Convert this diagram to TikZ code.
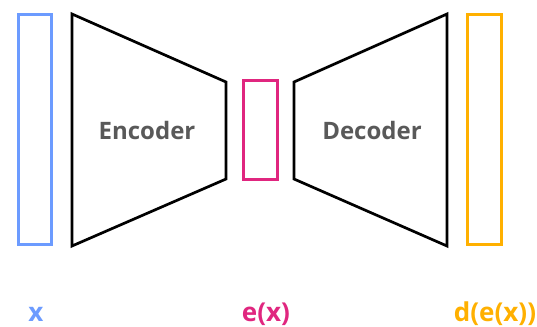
\documentclass[tikz,border=0pt]{standalone}
\usepackage{fontspec}
\setmainfont{Open Sans}
\definecolor{inblue}{HTML}{6C9BFF}
\definecolor{codepink}{HTML}{E0267F}
\definecolor{outorange}{HTML}{FFB000}
\definecolor{textgray}{HTML}{595959}
\begin{document}
\begin{tikzpicture}[x=1pt,y=-1pt,
  vec/.style={draw, line width=3.3pt, inner sep=0pt, outer sep=0pt, minimum width=33pt},
  net/.style={draw=black, line width=2.7pt, line join=miter},
  netlabel/.style={text=textgray, font=\fontsize{24}{28}\selectfont\bfseries},
  veclabel/.style={font=\fontsize{26}{30}\selectfont\bfseries, anchor=base}]
  \useasboundingbox (0,0) rectangle (537,326);

  % data vectors
  \node[vec, draw=inblue, minimum height=230pt] (x) at (35,129.5) {};
  \node[vec, draw=codepink, minimum width=34pt, minimum height=99pt] (z) at (260.5,130) {};
  \node[vec, draw=outorange, minimum width=34pt, minimum height=230pt] (y) at (484.5,129.5) {};

  % encoder and decoder blocks
  \draw[net] (72,14) -- (226,82) -- (226,179) -- (72,246) -- cycle;
  \draw[net] (294,82) -- (447,14) -- (447,246) -- (294,179) -- cycle;
  \node[netlabel] (enc) at (147,130) {Encoder};
  \node[netlabel] (dec) at (372,130) {Decoder};

  % captions
  \node[veclabel, text=inblue] (xl) at (36,321) {x};
  \node[veclabel, text=codepink] (zl) at (266,321) {e(x)};
  \node[veclabel, text=outorange] (yl) at (495,321) {d(e(x))};
\end{tikzpicture}
\end{document}
